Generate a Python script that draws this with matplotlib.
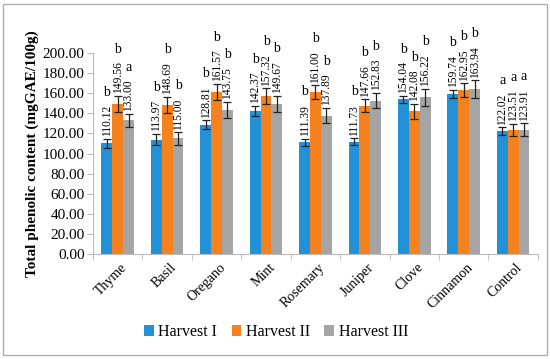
import numpy as np
import matplotlib.pyplot as plt
from matplotlib.patches import Rectangle

# data
plants = ["Thyme", "Basil", "Oregano", "Mint", "Rosemary", "Juniper",
          "Clove", "Cinnamon", "Control"]
harvest1 = [110.12, 113.97, 128.81, 142.37, 111.39, 111.73, 154.04, 159.74, 122.02]
harvest2 = [149.56, 148.69, 161.57, 157.32, 161.00, 147.66, 142.08, 162.95, 123.51]
harvest3 = [133.00, 115.00, 143.75, 149.67, 137.89, 152.83, 156.22, 163.94, 123.91]
err1 = [4.5, 5.5, 4.5, 5.0, 3.5, 3.5, 3.5, 4.0, 4.0]
err2 = [8.0, 8.0, 8.0, 7.5, 7.0, 6.5, 7.5, 7.0, 6.0]
err3 = [6.5, 6.0, 8.0, 8.0, 7.5, 7.5, 8.5, 9.0, 6.5]
let1 = ["b", "b", "b", "b", "b", "b", "b", "b", "a"]
let2 = ["b", "b", "b", "b", "b", "b", "b", "b", "a"]
let3 = ["a", "b", "b", "b", "b", "b", "b", "b", "a"]

names = ["Harvest I", "Harvest II", "Harvest III"]
colors = ["#2291d8", "#f5821f", "#a5a5a5"]

plt.rcParams['font.family'] = ['Liberation Serif', 'DejaVu Serif']

fig = plt.figure(figsize=(5.5, 3.59), dpi=100)
ax = fig.add_axes([0.169, 0.2925, 0.809, 0.5595])

x = np.arange(len(plants))
w = 0.22
series = [(harvest1, err1, let1), (harvest2, err2, let2), (harvest3, err3, let3)]
for i, (vals, errs, lets) in enumerate(series):
    pos = x + (i - 1) * w
    ax.bar(pos, vals, w, color=colors[i], label=names[i], zorder=2)
    ax.errorbar(pos, vals, yerr=errs, fmt='none', ecolor='#222222',
                elinewidth=0.9, capsize=3, capthick=0.9, zorder=3)
    for p, v, e, l in zip(pos, vals, errs, lets):
        ax.text(p, v + e + 2.5, f"{v:.2f}", rotation=90, ha='center',
                va='bottom', fontsize=8.3, clip_on=False)
        ax.text(p, v + e + 40, l, ha='center', va='bottom', fontsize=10,
                clip_on=False)

ax.set_xlim(-0.5, len(plants) - 0.5)
ax.set_ylim(0, 200)
ax.set_yticks(np.arange(0, 201, 20))
ax.set_yticklabels([f"{t:.2f}" for t in np.arange(0, 201, 20)], fontsize=11)
ax.set_xticks(x + 0.05)
ax.set_xticklabels(plants, rotation=45, ha='right', rotation_mode='anchor',
                   fontsize=10)
ax.tick_params(axis='x', length=0, pad=5)
ax.set_xticks(np.arange(-0.5, len(plants)), minor=True)
ax.tick_params(axis='x', which='minor', length=4, color='#bbbbbb')
ax.tick_params(axis='y', length=4, color='#bbbbbb', pad=2)

for s in ['top', 'right']:
    ax.spines[s].set_visible(False)
ax.spines['left'].set_color('#bbbbbb')
ax.spines['bottom'].set_color('#bbbbbb')

ax.set_ylabel("Total phenolic content (mgGAE/100g)", fontsize=11,
              fontweight='bold', labelpad=3)

fig.legend(loc='center', bbox_to_anchor=(0.502, 0.075), ncol=3, frameon=False,
           fontsize=11.5, handlelength=0.6, handleheight=0.6,
           handletextpad=0.3, columnspacing=0.9)

fig.patches.append(Rectangle((0.006, 0.01), 0.988, 0.98, transform=fig.transFigure,
                             fill=False, edgecolor='#b0b0b0', linewidth=1))

fig.savefig("out.png", dpi=100)
